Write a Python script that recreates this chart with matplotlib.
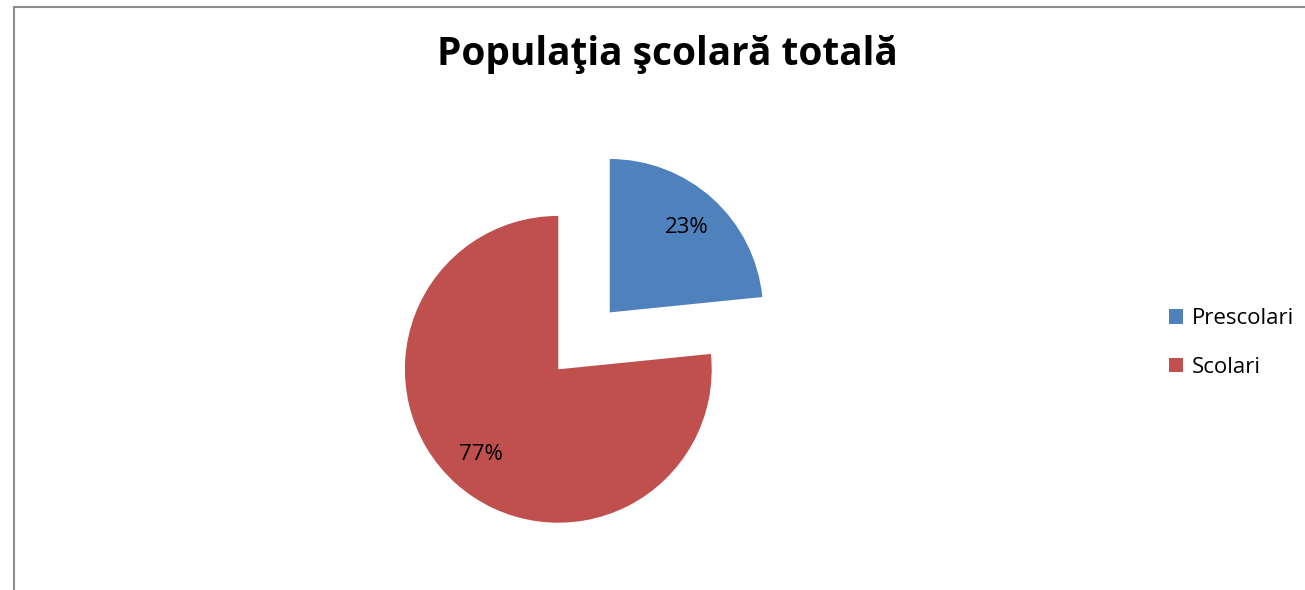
import matplotlib
matplotlib.use("Agg")
import matplotlib.pyplot as plt
from matplotlib.patches import Rectangle

title = "Populaţia şcolară totală"
categories = ["Prescolari", "Scolari"]
values = [23.4, 76.6]
colors = ["#4F81BD", "#C0504D"]
explode = [0.5, 0.0]

W, H = 1305, 590
fig = plt.figure(figsize=(W / 100, H / 100), dpi=100)
plt.rcParams['font.family'] = ['Open Sans', 'DejaVu Sans']

# pie center and radius in pixels
cx, cy, r = 558.3, 369.3, 153.4
ax = fig.add_axes([0, 0, 1, 1])
wedges, texts, autotexts = ax.pie(values, explode=explode, colors=colors,
                                  startangle=90, counterclock=False,
                                  autopct=lambda p: f"{p:.0f}%", pctdistance=0.75,
                                  wedgeprops=dict(linewidth=0))
for t in autotexts:
    t.set_fontsize(16)
    t.set_color("black")
ax.set_aspect('auto')
ax.set_xlim((0 - cx) / r, (W - cx) / r)
ax.set_ylim((cy - H) / r, cy / r)
ax.axis('off')

# frame border
fig.patches.append(Rectangle((13.5 / W, -0.01), 1.1, (H - 6.5) / H + 0.01,
                             transform=fig.transFigure, fill=False,
                             edgecolor="#8C8C8C", linewidth=1.5))

fig.text(667.5 / W, 1 - 65 / H, title, ha='center', va='baseline',
         fontsize=28, fontweight='bold')

leg = ax.legend(wedges, categories, loc='center left',
                bbox_to_anchor=(1169 / W, 1 - 343 / H), bbox_transform=fig.transFigure,
                frameon=False, fontsize=16, handlelength=0.64, handleheight=0.64,
                handletextpad=0.4, labelspacing=1.25, borderpad=0, borderaxespad=0)

fig.savefig("out.png", dpi=100, facecolor="white")
